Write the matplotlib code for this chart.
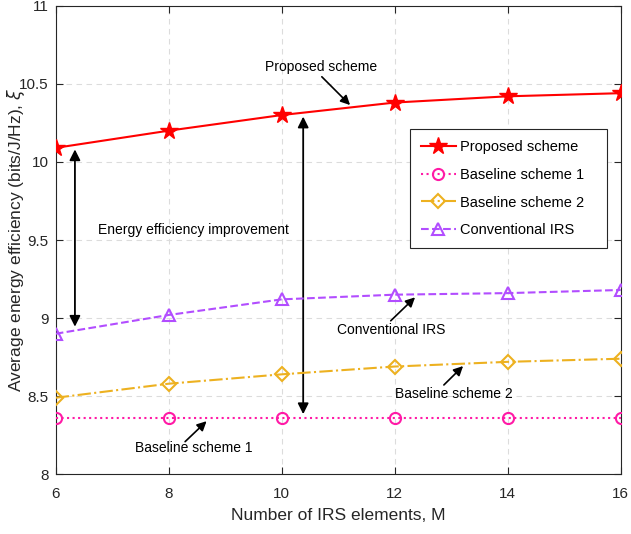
import numpy as np
import matplotlib
matplotlib.use("Agg")
import matplotlib.pyplot as plt

plt.rcParams["font.family"] = ["Liberation Sans", "DejaVu Sans"]
plt.rcParams["mathtext.fontset"] = "dejavusans"

# ── Data ───────────────────────────────────────────────────────────
M = [6, 8, 10, 12, 14, 16]
proposed = [10.09, 10.20, 10.30, 10.38, 10.42, 10.44]
baseline1 = [8.36, 8.36, 8.36, 8.36, 8.36, 8.36]
baseline2 = [8.49, 8.58, 8.64, 8.69, 8.72, 8.74]
conventional = [8.90, 9.02, 9.12, 9.15, 9.16, 9.18]

AX_COL = "#262626"

fig = plt.figure(figsize=(6.31, 5.34), dpi=100)
ax = fig.add_axes([0.0883, 0.1118, 0.8954, 0.8775])

ax.plot(M, proposed, "-", color="red", lw=1.5, marker="*", ms=13,
        mfc="red", mec="red", label="Proposed scheme", zorder=5)
ax.plot(M, baseline1, ":", color="#FF1AA6", lw=1.5, marker="o", ms=8,
        mfc="none", mec="#FF1AA6", mew=1.5, label="Baseline scheme 1", zorder=4)
ax.plot(M, baseline2, "-.", color="#EDB120", lw=1.5, marker="D", ms=7.5,
        mfc="none", mec="#EDB120", mew=1.5, label="Baseline scheme 2", zorder=4)
ax.plot(M, conventional, "--", color="#B24DFF", lw=1.5, marker="^", ms=9,
        mfc="none", mec="#B24DFF", mew=1.5, label="Conventional IRS", zorder=4)

ax.set_xlim(6, 16)
ax.set_ylim(8, 11)
ax.set_xticks(np.arange(6, 17, 2))
ax.set_yticks([8, 8.5, 9, 9.5, 10, 10.5, 11])
ax.set_yticklabels(["8", "8.5", "9", "9.5", "10", "10.5", "11"])
ax.grid(True, ls=(0, (5, 4)), color="#dcdcdc", lw=0.8)
ax.set_axisbelow(True)
ax.tick_params(direction="in", top=True, right=True, labelsize=11,
               colors=AX_COL, length=5, width=0.8)
ax.tick_params(axis="x", pad=9)
ax.tick_params(axis="y", pad=5)
for s in ax.spines.values():
    s.set_color(AX_COL)
    s.set_linewidth(0.8)

ax.set_xlabel("Number of IRS elements, M", fontsize=12.5, color=AX_COL, labelpad=5)
ax.set_ylabel(r"Average energy efficiency (bits/J/Hz), $\xi$", fontsize=12.5,
              color=AX_COL)
ax.yaxis.set_label_coords(-0.051, 0.5)

leg = ax.legend(loc="upper left", bbox_to_anchor=(0.627, 0.0, 0.3487, 0.737),
                mode="expand", borderaxespad=0, fontsize=10.5,
                fancybox=False, edgecolor=AX_COL, framealpha=1, handlelength=2.4,
                labelspacing=0.95, borderpad=0.75, handletextpad=0.3)
leg.get_frame().set_linewidth(0.8)

# ── Annotations ────────────────────────────────────────────────────
dbl = dict(arrowstyle="<|-|>", color="k", lw=1.3, mutation_scale=16,
           shrinkA=0, shrinkB=0)
ax.annotate("", xy=(6.34, 10.08), xytext=(6.34, 8.945), arrowprops=dbl)
ax.annotate("", xy=(10.38, 10.29), xytext=(10.38, 8.385), arrowprops=dbl)
ax.text(8.43, 9.564, "Energy efficiency improvement", fontsize=10,
        ha="center", va="center")

# label text, its position, arrow tail and arrow tip
labels = ["Proposed scheme", "Conventional IRS", "Baseline scheme 2", "Baseline scheme 1"]
text_xy = [(10.70, 10.61), (11.93, 8.924), (13.04, 8.515), (8.45, 8.166)]
tail_xy = [(10.71, 10.545), (11.93, 8.983), (12.87, 8.572), (8.29, 8.209)]
tip_xy = [(11.21, 10.364), (12.36, 9.133), (13.21, 8.693), (8.67, 8.34)]

for lab, t, a, b in zip(labels, text_xy, tail_xy, tip_xy):
    ax.text(t[0], t[1], lab, fontsize=10, ha="center", va="center")
    ax.annotate("", xy=b, xytext=a,
                arrowprops=dict(arrowstyle="-|>", color="k", lw=1.2,
                                mutation_scale=14, shrinkA=0, shrinkB=0))

fig.savefig("out.png", dpi=100)
